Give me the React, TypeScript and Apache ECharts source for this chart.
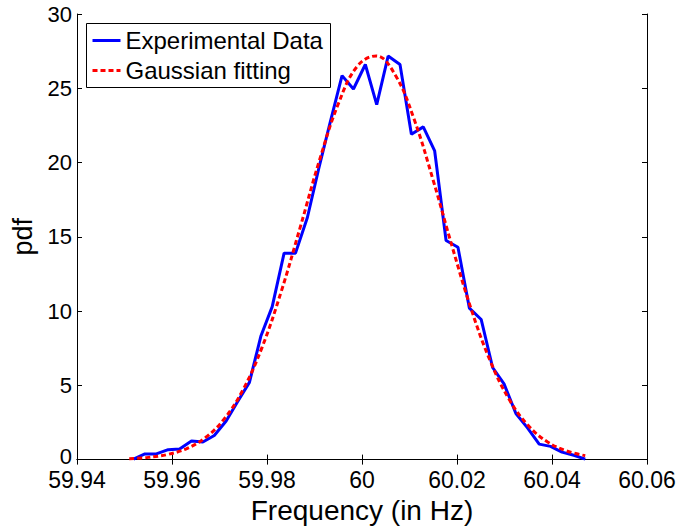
import React, { useEffect, useRef } from "react";
import * as echarts from "echarts";

// Experimental data (blue)
const expFreq = [
  59.9519, 59.9543, 59.9567, 59.9592, 59.9616, 59.9641, 59.9665, 59.9689, 59.9714, 59.9738,
  59.9763, 59.9787, 59.9811, 59.9836, 59.986, 59.9885, 59.9909, 59.9933, 59.9958, 59.9982,
  60.0007, 60.0031, 60.0055, 60.008, 60.0104, 60.0129, 60.0153, 60.0177, 60.0202, 60.0226,
  60.0251, 60.0275, 60.0299, 60.0324, 60.0348, 60.0373, 60.0397, 60.0421, 60.0446, 60.047,
];
const expPdf = [
  0.03, 0.38, 0.38, 0.67, 0.72, 1.26, 1.18, 1.62, 2.6, 3.9,
  5.2, 8.3, 10.3, 13.9, 13.9, 16.3, 19.6, 22.7, 25.85, 24.95,
  26.6, 23.9, 27.17, 26.6, 21.9, 22.4, 20.78, 14.75, 14.3, 10.2,
  9.43, 6.2, 5.1, 3.1, 2.15, 1.04, 0.89, 0.5, 0.29, 0.03,
];

// Gaussian fitting (red dashed)
const fitFreq = [
  59.951, 59.955, 59.959, 59.963, 59.967, 59.971, 59.975, 59.979, 59.983, 59.987,
  59.991, 59.995, 59.999, 60.003, 60.007, 60.011, 60.015, 60.019, 60.023, 60.027,
  60.031, 60.035, 60.039, 60.043, 60.047,
];
const fitPdf = [
  0.06, 0.15, 0.34, 0.73, 1.47, 2.74, 4.73, 7.59, 11.32, 15.65,
  20.1, 23.94, 26.48, 27.18, 25.89, 22.89, 18.79, 14.32, 10.12, 6.64,
  4.04, 2.29, 1.2, 0.59, 0.26,
];

const xTitle = "Frequency (in Hz)";
const yTitle = "pdf";
const legendNames = ["Experimental Data", "Gaussian fitting"];

const FONT = "'Liberation Sans', Arial, Helvetica, sans-serif";

export default function App() {
  const ref = useRef<HTMLDivElement>(null);
  useEffect(() => {
    if (!ref.current) return;
    const chart = echarts.init(ref.current, null, { renderer: "svg" });
    const fmt = (v: number) => String(parseFloat(v.toFixed(2)));
    const axisLineStyle = { show: true, lineStyle: { color: "#000", width: 1 } };
    const tickStyle = { show: true, inside: true, length: 5, lineStyle: { color: "#000", width: 1 } };
    chart.setOption({
      animation: false,
      backgroundColor: "#fff",
      textStyle: { fontFamily: FONT },
      grid: { left: 77, right: 35, top: 14, bottom: 64 },
      xAxis: [
        {
          type: "value",
          min: 59.94,
          max: 60.06,
          interval: 0.02,
          position: "bottom",
          axisLine: axisLineStyle,
          axisTick: tickStyle,
          splitLine: { show: false },
          axisLabel: {
            color: "#000",
            fontSize: 23,
            lineHeight: 20,
            fontFamily: FONT,
            margin: 10,
            formatter: fmt,
          },
          name: xTitle,
          nameLocation: "middle",
          nameGap: 27,
          nameTextStyle: { color: "#000", fontSize: 28, fontFamily: FONT },
        },
        {
          type: "value",
          min: 59.94,
          max: 60.06,
          interval: 0.02,
          position: "top",
          axisLine: axisLineStyle,
          axisTick: tickStyle,
          splitLine: { show: false },
          axisLabel: { show: false },
        },
      ],
      yAxis: [
        {
          type: "value",
          min: 0,
          max: 30,
          interval: 5,
          position: "left",
          axisLine: axisLineStyle,
          axisTick: tickStyle,
          splitLine: { show: false },
          axisLabel: {
            color: "#000",
            fontSize: 22,
            lineHeight: 14,
            fontFamily: FONT,
            margin: 5,
            formatter: (v: number) => (v === 0 ? "{z|0}" : String(v)),
            rich: {
              z: { color: "#000", fontSize: 22, fontFamily: FONT, lineHeight: 14, padding: [0, 0, 7, 0] },
            },
          },
          name: yTitle,
          nameLocation: "middle",
          nameGap: 37,
          nameTextStyle: { color: "#000", fontSize: 27, fontFamily: FONT },
        },
        {
          type: "value",
          min: 0,
          max: 30,
          interval: 5,
          position: "right",
          axisLine: axisLineStyle,
          axisTick: tickStyle,
          splitLine: { show: false },
          axisLabel: { show: false },
        },
      ],
      series: [
        {
          name: legendNames[0],
          type: "line",
          xAxisIndex: 0,
          yAxisIndex: 0,
          data: expFreq.map((f, i) => [f, expPdf[i]]),
          showSymbol: false,
          symbol: "none",
          lineStyle: { color: "#0000ff", width: 3 },
          z: 2,
        },
        {
          name: legendNames[1],
          type: "line",
          xAxisIndex: 0,
          yAxisIndex: 0,
          data: fitFreq.map((f, i) => [f, fitPdf[i]]),
          showSymbol: false,
          symbol: "none",
          smooth: 0.4,
          lineStyle: { color: "#ff0000", width: 3, type: [5, 3] },
          z: 3,
        },
      ],
      graphic: [
        {
          type: "group",
          left: 86,
          top: 23,
          z: 100,
          children: [
            {
              type: "rect",
              shape: { x: 0, y: 0, width: 244, height: 64 },
              style: { fill: "#fff", stroke: "#000", lineWidth: 1 },
            },
            {
              type: "line",
              shape: { x1: 6, y1: 17, x2: 34, y2: 17 },
              style: { stroke: "#0000ff", lineWidth: 3 },
            },
            {
              type: "text",
              x: 39,
              y: 17,
              style: {
                text: legendNames[0],
                fill: "#000",
                font: `24px ${FONT}`,
                verticalAlign: "middle",
                align: "left",
              },
            },
            {
              type: "line",
              shape: { x1: 6, y1: 47, x2: 34, y2: 47 },
              style: { stroke: "#ff0000", lineWidth: 3, lineDash: [5, 3] },
            },
            {
              type: "text",
              x: 39,
              y: 47,
              style: {
                text: legendNames[1],
                fill: "#000",
                font: `24px ${FONT}`,
                verticalAlign: "middle",
                align: "left",
              },
            },
          ],
        },
      ],
    });
    return () => chart.dispose();
  }, []);
  return (
    <div
      ref={ref}
      style={{ position: "fixed", left: 0, top: 0, width: 682, height: 529, background: "#fff" }}
    />
  );
}
